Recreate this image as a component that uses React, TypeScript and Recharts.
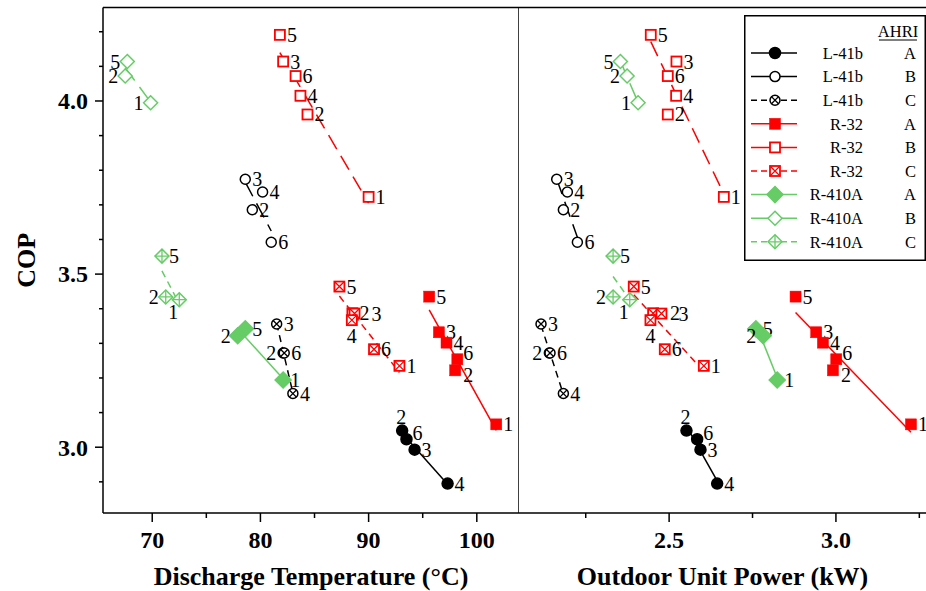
import React from "react";
import { ScatterChart, Scatter, XAxis, YAxis, ReferenceLine } from "recharts";

// Axis ranges and ticks
const COP_DOMAIN = [2.81, 4.27];
const COP_TICKS = [2.9, 3.0, 3.1, 3.2, 3.3, 3.4, 3.5, 3.6, 3.7, 3.8, 3.9, 4.0, 4.1, 4.2];
const COP_TICK_LABELS = [3.0, 3.5, 4.0];
const TEMP_DOMAIN = [65.45, 103.9];
const TEMP_TICKS = [70, 75, 80, 85, 90, 95, 100];
const TEMP_TICK_LABELS = [70, 80, 90, 100];
const POWER_DOMAIN = [2.05, 3.27];
const POWER_TICKS = [2.25, 2.5, 2.75, 3.0, 3.25];
const POWER_TICK_LABELS = [2.5, 3.0];

// L-41b
const L41B_A_LABELS = ["2", "6", "3", "4"];
const L41B_A_COP = [3.048, 3.023, 2.993, 2.895];
const L41B_A_TEMP = [93.1, 93.5, 94.25, 97.3];
const L41B_A_POWER = [2.552, 2.584, 2.594, 2.644];

const L41B_B_LABELS = ["3", "4", "2", "6"];
const L41B_B_COP = [3.774, 3.737, 3.686, 3.592];
const L41B_B_TEMP = [78.6, 80.2, 79.25, 81.0];
const L41B_B_POWER = [2.163, 2.195, 2.183, 2.225];

const L41B_C_LABELS = ["3", "2", "6", "4"];
const L41B_C_COP = [3.356, 3.272, 3.272, 3.155];
const L41B_C_TEMP = [81.5, 82.1, 82.2, 83.0];
const L41B_C_POWER = [2.116, 2.141, 2.143, 2.183];

// R-32
const R32_A_LABELS = ["5", "3", "4", "6", "2", "1"];
const R32_A_COP = [3.435, 3.332, 3.302, 3.254, 3.222, 3.066];
const R32_A_TEMP = [95.6, 96.5, 97.2, 98.2, 98.0, 101.8];
const R32_A_POWER = [2.879, 2.941, 2.961, 3.001, 2.991, 3.225];

const R32_B_LABELS = ["5", "3", "6", "4", "2", "1"];
const R32_B_COP = [4.191, 4.114, 4.072, 4.015, 3.961, 3.723];
const R32_B_TEMP = [81.8, 82.1, 83.25, 83.7, 84.35, 90.0];
const R32_B_POWER = [2.445, 2.522, 2.496, 2.521, 2.496, 2.664];

const R32_C_LABELS = ["5", "2", "3", "4", "6", "1"];
const R32_C_COP = [3.464, 3.387, 3.386, 3.367, 3.283, 3.235];
const R32_C_TEMP = [87.3, 88.5, 88.7, 88.45, 90.5, 92.85];
const R32_C_POWER = [2.394, 2.452, 2.477, 2.444, 2.487, 2.604];

// R-410A
const R410A_A_LABELS = ["5", "2", "1"];
const R410A_A_COP = [3.342, 3.322, 3.194];
const R410A_A_TEMP = [78.6, 77.9, 82.1];
const R410A_A_POWER = [2.76, 2.782, 2.824];

const R410A_B_LABELS = ["5", "2", "1"];
const R410A_B_COP = [4.114, 4.072, 3.995];
const R410A_B_TEMP = [67.7, 67.5, 69.85];
const R410A_B_POWER = [2.354, 2.374, 2.407];

const R410A_C_LABELS = ["5", "2", "1"];
const R410A_C_COP = [3.552, 3.434, 3.426];
const R410A_C_TEMP = [70.9, 71.25, 72.5];
const R410A_C_POWER = [2.332, 2.332, 2.382];

const BLACK = "#000000";
const RED = "#ff0000";
const GREEN = "#66cc66";
const SERIF = "'Liberation Serif', 'Times New Roman', serif";

type MarkShape = "circle" | "square" | "diamond";
type MarkFill = "solid" | "open" | "cross";

interface SeriesDef {
  key: string;
  name: string;
  ahri: string;
  color: string;
  shape: MarkShape;
  fill: MarkFill;
  labels: string[];
  cop: number[];
  temp: number[];
  power: number[];
}

const SERIES: SeriesDef[] = [
  { key: "L41B_A", name: "L-41b", ahri: "A", color: BLACK, shape: "circle", fill: "solid", labels: L41B_A_LABELS, cop: L41B_A_COP, temp: L41B_A_TEMP, power: L41B_A_POWER },
  { key: "L41B_B", name: "L-41b", ahri: "B", color: BLACK, shape: "circle", fill: "open", labels: L41B_B_LABELS, cop: L41B_B_COP, temp: L41B_B_TEMP, power: L41B_B_POWER },
  { key: "L41B_C", name: "L-41b", ahri: "C", color: BLACK, shape: "circle", fill: "cross", labels: L41B_C_LABELS, cop: L41B_C_COP, temp: L41B_C_TEMP, power: L41B_C_POWER },
  { key: "R32_A", name: "R-32", ahri: "A", color: RED, shape: "square", fill: "solid", labels: R32_A_LABELS, cop: R32_A_COP, temp: R32_A_TEMP, power: R32_A_POWER },
  { key: "R32_B", name: "R-32", ahri: "B", color: RED, shape: "square", fill: "open", labels: R32_B_LABELS, cop: R32_B_COP, temp: R32_B_TEMP, power: R32_B_POWER },
  { key: "R32_C", name: "R-32", ahri: "C", color: RED, shape: "square", fill: "cross", labels: R32_C_LABELS, cop: R32_C_COP, temp: R32_C_TEMP, power: R32_C_POWER },
  { key: "R410A_A", name: "R-410A", ahri: "A", color: GREEN, shape: "diamond", fill: "solid", labels: R410A_A_LABELS, cop: R410A_A_COP, temp: R410A_A_TEMP, power: R410A_A_POWER },
  { key: "R410A_B", name: "R-410A", ahri: "B", color: GREEN, shape: "diamond", fill: "open", labels: R410A_B_LABELS, cop: R410A_B_COP, temp: R410A_B_TEMP, power: R410A_B_POWER },
  { key: "R410A_C", name: "R-410A", ahri: "C", color: GREEN, shape: "diamond", fill: "cross", labels: R410A_C_LABELS, cop: R410A_C_COP, temp: R410A_C_TEMP, power: R410A_C_POWER },
];

// where the point number sits, when not to the right
type Side = "r" | "rr" | "ur" | "br" | "l" | "t" | "b" | "bl";
const TEMP_LABEL_SIDE: Record<string, Side> = {
  "R410A_B:5": "l", "R410A_B:2": "l", "R410A_B:1": "l",
  "R410A_C:2": "l", "R410A_C:1": "bl",
  "R410A_A:2": "l",
  "L41B_C:2": "l",
  "L41B_A:2": "t", "L41B_A:6": "ur",
  "R32_C:4": "b", "R32_C:3": "rr",
  "R32_A:2": "br", "R32_A:6": "ur",
};
const POWER_LABEL_SIDE: Record<string, Side> = {
  ...TEMP_LABEL_SIDE,
  "R32_C:2": "rr",
  "R32_C:3": "rr",
};

// dash used for the fitted line in the plot, by AHRI condition
const FIT_DASH: Record<string, string | undefined> = { A: undefined, B: "16 8", C: "7 5" };
const LEGEND_DASH: Record<string, string | undefined> = { A: undefined, B: undefined, C: "6 4" };

function Marker({ cx, cy, shape, fill, color }: { cx: number; cy: number; shape: MarkShape; fill: MarkFill; color: string }) {
  const bg = fill === "solid" ? color : "#ffffff";
  const sw = 1.5;
  if (shape === "circle") {
    const r = fill === "solid" ? 5.5 : 5;
    const d = r * 0.7071;
    return (
      <g>
        <circle cx={cx} cy={cy} r={r} fill={bg} stroke={color} strokeWidth={sw} />
        {fill === "cross" && (
          <path d={`M${cx - d},${cy - d}L${cx + d},${cy + d}M${cx - d},${cy + d}L${cx + d},${cy - d}`} stroke={color} strokeWidth={1.3} />
        )}
      </g>
    );
  }
  if (shape === "square") {
    const h = fill === "solid" ? 5.5 : 5;
    return (
      <g>
        <rect x={cx - h} y={cy - h} width={2 * h} height={2 * h} fill={bg} stroke={color} strokeWidth={fill === "solid" ? 0.5 : 1.8} />
        {fill === "cross" && (
          <path d={`M${cx - h},${cy - h}L${cx + h},${cy + h}M${cx - h},${cy + h}L${cx + h},${cy - h}`} stroke={color} strokeWidth={1.3} />
        )}
      </g>
    );
  }
  const h = fill === "solid" ? 8 : 7;
  return (
    <g>
      <path d={`M${cx},${cy - h}L${cx + h},${cy}L${cx},${cy + h}L${cx - h},${cy}Z`} fill={bg} stroke={color} strokeWidth={sw} />
      {fill === "cross" && (
        <path d={`M${cx},${cy - h}L${cx},${cy + h}M${cx - h},${cy}L${cx + h},${cy}`} stroke={color} strokeWidth={1.3} />
      )}
    </g>
  );
}

function makePointShape(s: SeriesDef, sides: Record<string, Side>) {
  return (props: any) => {
    const { cx, cy, payload } = props;
    const side = sides[`${s.key}:${payload.label}`] || "r";
    let tx = cx + 7;
    let ty = cy;
    let anchor: "start" | "end" | "middle" = "start";
    if (side === "rr") tx = cx + 17;
    if (side === "ur") { tx = cx + 6; ty = cy - 6; }
    if (side === "br") { tx = cx + 8; ty = cy + 5; }
    if (side === "l") { tx = cx - 7; anchor = "end"; }
    if (side === "t") { tx = cx - 1; ty = cy - 14; anchor = "middle"; }
    if (side === "b") { ty = cy + 16; anchor = "middle"; tx = cx; }
    if (side === "bl") { tx = cx - 6; ty = cy + 12; anchor = "middle"; }
    return (
      <g>
        <Marker cx={cx} cy={cy} shape={s.shape} fill={s.fill} color={s.color} />
        <text x={tx} y={ty} dy="0.35em" textAnchor={anchor} fontFamily={SERIF} fontSize={20} fill="#000">
          {payload.label}
        </text>
      </g>
    );
  };
}

const NoShape = () => <g />;

// least squares fit of COP against x, drawn across the x range of the data
function fitEnds(xs: number[], ys: number[]) {
  const n = xs.length;
  const mx = xs.reduce((a, b) => a + b, 0) / n;
  const my = ys.reduce((a, b) => a + b, 0) / n;
  let sxy = 0;
  let sxx = 0;
  xs.forEach((x, i) => {
    sxy += (x - mx) * (ys[i] - my);
    sxx += (x - mx) * (x - mx);
  });
  const slope = sxx > 0 ? sxy / sxx : 0;
  const x0 = Math.min(...xs);
  const x1 = Math.max(...xs);
  return [
    { x: x0, y: my + slope * (x0 - mx) },
    { x: x1, y: my + slope * (x1 - mx) },
  ];
}

const same = (a: number, b: number) => Math.abs(a - b) < 1e-6;

function makeXTick(labels: number[], decimals: number) {
  return (props: any) => {
    const { x, y, payload } = props;
    const major = labels.some((v) => same(v, payload.value));
    return (
      <g>
        <line x1={x} y1={y} x2={x} y2={y + (major ? 9 : 5)} stroke="#000" strokeWidth={1.5} />
        {major && (
          <text x={x} y={y + 35} textAnchor="middle" fontFamily={SERIF} fontWeight="bold" fontSize={24} fill="#000">
            {Number(payload.value).toFixed(decimals)}
          </text>
        )}
      </g>
    );
  };
}

const CopTick = (props: any) => {
  const { x, y, payload } = props;
  const major = COP_TICK_LABELS.some((v) => same(v, payload.value));
  return (
    <g>
      <line x1={x - (major ? 8 : 4)} y1={y} x2={x} y2={y} stroke="#000" strokeWidth={1.5} />
      {major && (
        <text x={x - 15} y={y} dy="0.35em" textAnchor="end" fontFamily={SERIF} fontWeight="bold" fontSize={24} fill="#000">
          {Number(payload.value).toFixed(1)}
        </text>
      )}
    </g>
  );
};

function axisTitle(text: string) {
  return (props: any) => {
    const vb = props.viewBox || {};
    return (
      <text x={vb.x + vb.width / 2} y={vb.y + 72} textAnchor="middle" fontFamily={SERIF} fontWeight="bold" fontSize={26} fill="#000">
        {text}
      </text>
    );
  };
}

const copTitle = (props: any) => {
  const vb = props.viewBox || {};
  const cx = vb.x + 26;
  const cy = vb.y + vb.height / 2;
  return (
    <text x={cx} y={cy} dy="0.35em" transform={`rotate(-90 ${cx} ${cy})`} textAnchor="middle" fontFamily={SERIF} fontWeight="bold" fontSize={26} fill="#000">
      COP
    </text>
  );
};

function renderSeries(xKey: "temp" | "power", sides: Record<string, Side>) {
  const fits = SERIES.map((s) => (
    <Scatter
      key={`fit-${s.key}`}
      data={fitEnds(s[xKey], s.cop)}
      fill={s.color}
      shape={NoShape}
      line={{ stroke: s.color, strokeWidth: 1.5, strokeDasharray: FIT_DASH[s.ahri] }}
      lineType="joint"
      isAnimationActive={false}
    />
  ));
  const points = SERIES.map((s) => (
    <Scatter
      key={`pts-${s.key}`}
      data={s.cop.map((c, i) => ({ x: s[xKey][i], y: c, label: s.labels[i] }))}
      fill={s.color}
      shape={makePointShape(s, sides)}
      isAnimationActive={false}
    />
  ));
  return [...fits, ...points];
}

function LegendBox() {
  const rowY = (i: number) => 38 + i * 23.6;
  return (
    <svg width={182} height={246} style={{ position: "absolute", left: 744, top: 15 }}>
      <rect x={0.75} y={0.75} width={180.5} height={244.5} fill="#fff" stroke="#000" strokeWidth={1.5} />
      <text x={154} y={22} textAnchor="middle" fontFamily={SERIF} fontSize={16.5} fill="#000">
        AHRI
      </text>
      <line x1={135} y1={25} x2={173} y2={25} stroke="#000" strokeWidth={1} />
      {SERIES.map((s, i) => (
        <g key={s.key}>
          <line x1={7} y1={rowY(i)} x2={53} y2={rowY(i)} stroke={s.color} strokeWidth={1.5} strokeDasharray={LEGEND_DASH[s.ahri]} />
          <Marker cx={31} cy={rowY(i)} shape={s.shape} fill={s.fill} color={s.color} />
          <text x={119} y={rowY(i)} dy="0.35em" textAnchor="end" fontFamily={SERIF} fontSize={16.5} fill="#000">
            {s.name}
          </text>
          <text x={172} y={rowY(i)} dy="0.35em" textAnchor="end" fontFamily={SERIF} fontSize={16.5} fill="#000">
            {s.ahri}
          </text>
        </g>
      ))}
    </svg>
  );
}

export default function App() {
  const axisLine = { stroke: "#000", strokeWidth: 1.5 };
  return (
    <div style={{ position: "absolute", left: 0, top: 0, width: 926, height: 591, background: "#fff", overflow: "hidden" }}>
      <div style={{ position: "absolute", left: 0, top: 0 }}>
        <ScatterChart width={519} height={591} margin={{ top: 7.5, right: 0, bottom: 0, left: 0 }}>
          <XAxis
            type="number"
            dataKey="x"
            domain={TEMP_DOMAIN}
            ticks={TEMP_TICKS}
            interval={0}
            height={78}
            tickSize={0}
            tickMargin={0}
            tickLine={false}
            axisLine={axisLine}
            tick={makeXTick(TEMP_TICK_LABELS, 0)}
            label={axisTitle("Discharge Temperature (°C)")}
          />
          <YAxis
            type="number"
            dataKey="y"
            domain={COP_DOMAIN}
            ticks={COP_TICKS}
            interval={0}
            width={103}
            tickSize={0}
            tickMargin={0}
            tickLine={false}
            axisLine={axisLine}
            tick={CopTick}
            label={copTitle}
          />
          <ReferenceLine y={COP_DOMAIN[1]} stroke="#000" strokeWidth={1.5} />
          <ReferenceLine x={TEMP_DOMAIN[1]} stroke="#000" strokeWidth={1.5} />
          {renderSeries("temp", TEMP_LABEL_SIDE)}
        </ScatterChart>
      </div>
      <div style={{ position: "absolute", left: 519, top: 0 }}>
        <ScatterChart width={407} height={591} margin={{ top: 7.5, right: 0, bottom: 0, left: 0 }}>
          <XAxis
            type="number"
            dataKey="x"
            domain={POWER_DOMAIN}
            ticks={POWER_TICKS}
            interval={0}
            height={78}
            tickSize={0}
            tickMargin={0}
            tickLine={false}
            axisLine={axisLine}
            tick={makeXTick(POWER_TICK_LABELS, 1)}
            label={axisTitle("Outdoor Unit Power (kW)")}
          />
          <YAxis type="number" dataKey="y" domain={COP_DOMAIN} hide width={0} />
          <ReferenceLine y={COP_DOMAIN[1]} stroke="#000" strokeWidth={1.5} />
          {renderSeries("power", POWER_LABEL_SIDE)}
        </ScatterChart>
      </div>
      <LegendBox />
    </div>
  );
}
